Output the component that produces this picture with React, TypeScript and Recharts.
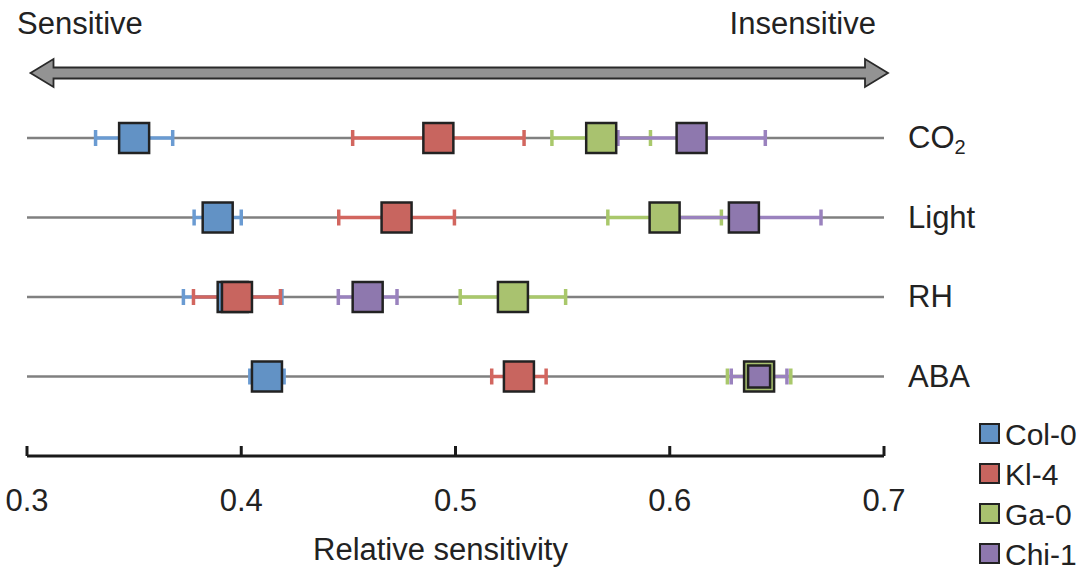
import { ScatterChart, Scatter, XAxis, YAxis, CartesianGrid, ErrorBar } from 'recharts';

const factors = ['CO2', 'Light', 'RH', 'ABA'];
const strains = ['Col-0', 'Kl-4', 'Ga-0', 'Chi-1'];

// relative sensitivity per factor (CO2, Light, RH, ABA) and the error half-widths
const col0Val = [0.35, 0.389, 0.396, 0.412];
const col0Err = [0.018, 0.011, 0.023, 0.008];
const kl4Val = [0.492, 0.4725, 0.398, 0.5296];
const kl4Err = [0.04, 0.027, 0.0203, 0.0127];
const ga0Val = [0.568, 0.5976, 0.5268, 0.6417];
const ga0Err = [0.023, 0.0265, 0.0246, 0.0148];
const chi1Val = [0.6102, 0.6346, 0.459, 0.6417];
const chi1Err = [0.0344, 0.036, 0.0137, 0.013];

const xTicks = [0.3, 0.4, 0.5, 0.6, 0.7];
const rowTicks = [1, 2, 3, 4];

const values = [col0Val, kl4Val, ga0Val, chi1Val];
const errors = [col0Err, kl4Err, ga0Err, chi1Err];

const fills = ['#6292c5', '#c8655f', '#a9c26f', '#8e78ae'];
const barColors = ['#6a9bd2', '#d2665f', '#a9c86b', '#9a82be'];

const FONT = '"Liberation Sans", Arial, Helvetica, sans-serif';
const W = 1081;
const H = 569;

// row 4 = CO2 at the top, row 1 = ABA just above the axis
const rowOf = (i: number) => factors.length - i;

const series = strains.map((name, s) =>
  factors.map((f, i) => {
    const v = values[s][i];
    // a square sitting exactly on an earlier one is drawn smaller so both stay visible
    const nested = values.slice(0, s).some(vals => Math.abs(vals[i] - v) < 0.002);
    return { x: v, y: rowOf(i), err: errors[s][i], factor: f, strain: name, nested };
  })
);

const Square = (props: any) => {
  const { cx, cy, fill, payload } = props;
  if (cx == null || cy == null) return <g />;
  const size = payload && payload.nested ? 22 : 30;
  return (
    <rect
      x={cx - size / 2}
      y={cy - size / 2}
      width={size}
      height={size}
      fill={fill}
      stroke="#222"
      strokeWidth={2.5}
    />
  );
};

const XTick = (props: any) => {
  const { x, y, payload } = props;
  return (
    <g>
      <line x1={x} x2={x} y1={y - 10} y2={y} stroke="#1a1a1a" strokeWidth={3} />
      <text x={x} y={y + 55} textAnchor="middle" fontSize={31} fontFamily={FONT} fill="#222">
        {payload.value.toFixed(1)}
      </text>
    </g>
  );
};

const YTick = (props: any) => {
  const { x, y, payload } = props;
  const label = factors[factors.length - payload.value];
  if (!label) return <g />;
  return (
    <text x={x + 24} y={y + 10} textAnchor="start" fontSize={31} fontFamily={FONT} fill="#222">
      {label === 'CO2' ? (
        <>
          <tspan>CO</tspan>
          <tspan fontSize={20} dy={6}>2</tspan>
        </>
      ) : (
        label
      )}
    </text>
  );
};

export default function App() {
  const arrowY = 73;
  const shaft = 5.5;
  const head = 14;
  const left = 30.5;
  const right = 888;
  const headLen = 23;
  const arrowPts = [
    [left, arrowY],
    [left + headLen, arrowY - head],
    [left + headLen, arrowY - shaft],
    [right - headLen, arrowY - shaft],
    [right - headLen, arrowY - head],
    [right, arrowY],
    [right - headLen, arrowY + head],
    [right - headLen, arrowY + shaft],
    [left + headLen, arrowY + shaft],
    [left + headLen, arrowY + head],
  ]
    .map(p => p.join(','))
    .join(' ');

  return (
    <div style={{ position: 'absolute', left: 0, top: 0, width: W, height: H, background: '#fff', fontFamily: FONT }}>
      <ScatterChart width={W} height={H} margin={{ top: 58.5, right: 0, bottom: 0, left: 27 }}>
        <CartesianGrid
          vertical={false}
          horizontalValues={rowTicks}
          stroke="#808080"
          strokeWidth={2.5}
        />
        <XAxis
          type="number"
          dataKey="x"
          domain={[0.3, 0.7]}
          ticks={xTicks}
          interval={0}
          height={113}
          axisLine={{ stroke: '#1a1a1a', strokeWidth: 3 }}
          tickLine={false}
          tickSize={0}
          tickMargin={0}
          tick={<XTick />}
          label={{
            value: 'Relative sensitivity',
            position: 'insideBottom',
            offset: 9,
            dx: -15,
            fontSize: 31,
            fontFamily: FONT,
            fill: '#222',
          }}
        />
        <YAxis
          type="number"
          dataKey="y"
          domain={[0, 5]}
          ticks={rowTicks}
          interval={0}
          orientation="right"
          width={197}
          axisLine={false}
          tickLine={false}
          tickSize={0}
          tickMargin={0}
          tick={<YTick />}
        />
        {strains.map((name, s) => (
          <Scatter
            key={'err-' + name}
            name={name + ' error'}
            data={series[s]}
            shape={() => <g />}
            isAnimationActive={false}
          >
            <ErrorBar
              dataKey="err"
              direction="x"
              width={8}
              stroke={barColors[s]}
              strokeWidth={3.5}
              isAnimationActive={false}
            />
          </Scatter>
        ))}
        {strains.map((name, s) => (
          <Scatter
            key={name}
            name={name}
            data={series[s]}
            fill={fills[s]}
            shape={<Square />}
            isAnimationActive={false}
          />
        ))}
      </ScatterChart>
      <svg width={W} height={H} style={{ position: 'absolute', left: 0, top: 0, pointerEvents: 'none' }}>
        <text x={17} y={34} fontSize={31} fontFamily={FONT} fill="#222">
          Sensitive
        </text>
        <text x={876} y={34} fontSize={31} fontFamily={FONT} fill="#222" textAnchor="end">
          Insensitive
        </text>
        <polygon points={arrowPts} fill="#939393" stroke="#2a2a2a" strokeWidth={1.8} strokeLinejoin="miter" />
        {strains.map((name, s) => {
          const cy = 434 + s * 40;
          return (
            <g key={name}>
              <rect x={980} y={cy - 10} width={19} height={19} fill={fills[s]} stroke="#222" strokeWidth={2} />
              <text x={1005} y={cy + 10.5} fontSize={30} fontFamily={FONT} fill="#222">
                {name}
              </text>
            </g>
          );
        })}
      </svg>
    </div>
  );
}
